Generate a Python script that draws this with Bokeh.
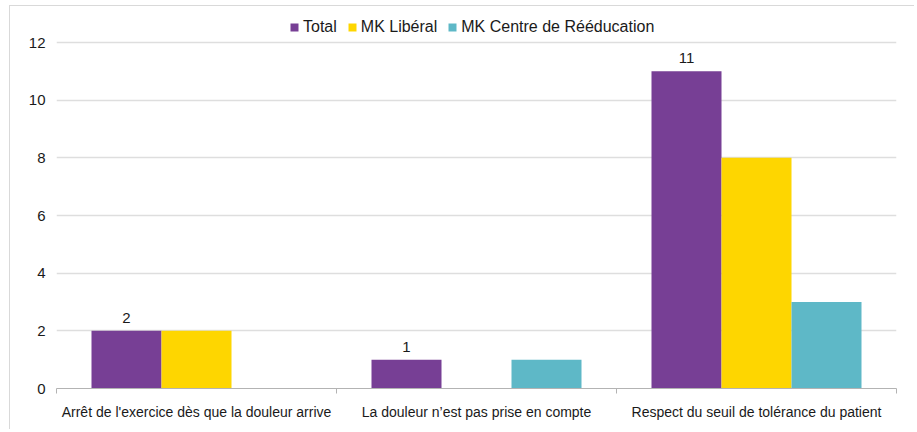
from bokeh.plotting import figure
from bokeh.models import ColumnDataSource, FixedTicker, Range1d, Legend, LegendItem, LabelSet
from bokeh.core.properties import value
from bokeh.embed import file_html
from bokeh.resources import INLINE

categories = ["Arrêt de l'exercice dès que la douleur arrive",
              "La douleur n’est pas prise en compte",
              "Respect du seuil de tolérance du patient"]
series_names = ["Total", "MK Libéral", "MK Centre de Rééducation"]
total = [2, 1, 11]
liberal = [2, 0, 8]
centre = [0, 1, 3]
y_ticks = [0, 2, 4, 6, 8, 10, 12]

colors = ["#773F95", "#FED600", "#5EB8C7"]
FONT = "Liberation Sans"
TXT = "#1a1a1a"

p = figure(width=905, height=424, output_backend="svg", toolbar_location=None,
           x_range=Range1d(0, len(categories)), y_range=Range1d(0, 13.11),
           min_border_left=46, min_border_right=19, min_border_top=4, min_border_bottom=42)
p.margin = (5, 0, 0, 9)
p.outline_line_color = None
p.styles = {"border-top": "1px solid #d9d9d9", "border-left": "1px solid #d9d9d9"}

offsets = [-0.25, 0.0, 0.25]
renderers = []
for vals, off, col in zip([total, liberal, centre], offsets, colors):
    src = ColumnDataSource(dict(x=[i + 0.5 + off for i in range(len(categories))], top=vals,
                                lbl=[str(v) for v in vals]))
    r = p.vbar(x="x", top="top", width=0.25, source=src, fill_color=col, line_color=None)
    renderers.append(r)
    if vals is total:
        p.add_layout(LabelSet(x="x", y="top", text="lbl", source=src, text_align="center",
                              text_baseline="alphabetic", y_offset=8, text_font=value(FONT),
                              text_font_size="15px", text_color=TXT))

legend = Legend(items=[LegendItem(label=n, renderers=[r]) for n, r in zip(series_names, renderers)],
                orientation="horizontal", location=(233, 352),
                glyph_width=10, glyph_height=10, label_standoff=4, spacing=10,
                label_text_font=FONT, label_text_font_size="16px", label_text_color=TXT,
                label_height=16, padding=0, margin=0, border_line_color=None,
                background_fill_alpha=0)
p.add_layout(legend)

# x axis
xa = p.xaxis[0]
xa.ticker = FixedTicker(ticks=[i + 0.5 for i in range(len(categories))],
                        minor_ticks=list(range(len(categories) + 1)))
xa.major_label_overrides = {i + 0.5: c for i, c in enumerate(categories)}
xa.major_tick_line_color = None
xa.major_tick_out = 0
xa.major_tick_in = 0
xa.minor_tick_out = 5
xa.minor_tick_in = 0
xa.minor_tick_line_color = "#b3b3b3"
xa.axis_line_color = "#b3b3b3"
xa.major_label_standoff = 10
xa.major_label_text_font = FONT
xa.major_label_text_font_size = "14px"
xa.major_label_text_color = TXT

# y axis
ya = p.yaxis[0]
ya.ticker = FixedTicker(ticks=y_ticks)
ya.axis_line_color = None
ya.major_tick_line_color = None
ya.minor_tick_line_color = None
ya.major_tick_out = 0
ya.major_tick_in = 0
ya.major_label_standoff = 11
ya.major_label_text_font = FONT
ya.major_label_text_font_size = "15px"
ya.major_label_text_color = TXT

p.xgrid.grid_line_color = None
p.ygrid.grid_line_color = "#dedede"
p.ygrid.grid_line_width = 1.5

open("out.html", "w").write(file_html(p, INLINE))
